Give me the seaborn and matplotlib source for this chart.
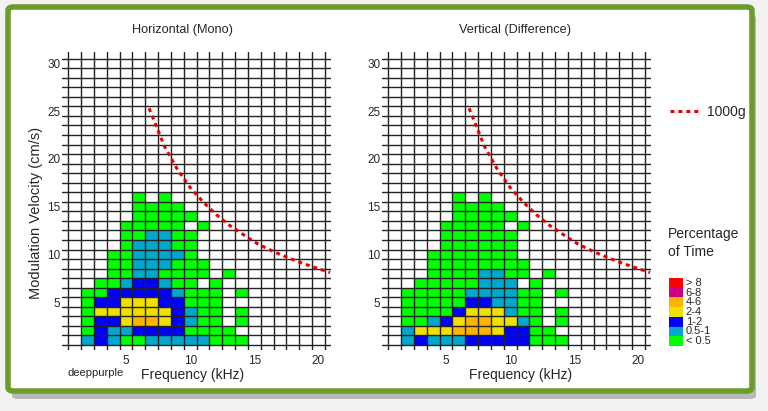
import numpy as np
import pandas as pd
import matplotlib
matplotlib.use('Agg')
import matplotlib.pyplot as plt
import seaborn as sns
from matplotlib.colors import ListedColormap, BoundaryNorm
from matplotlib.patches import FancyBboxPatch
from matplotlib.lines import Line2D

sns.set_style('white')
plt.rcParams['font.family'] = ['Liberation Sans', 'DejaVu Sans']

# Frequency bins (kHz) and modulation velocity bins (cm/s)
freq_khz = list(range(1, 21))
velocity = list(range(1, 32))

# class per cell: 0 none, 1 <0.5, 2 0.5-1, 3 1-2, 4 2-4, 5 4-6, 6 6-8, 7 >8
# one string per velocity row, starting at 1 cm/s, columns 1..20 kHz
mono_rows = [
    "02321122222111000000",
    "01322333311110000000",
    "01334554321101000000",
    "01444444321101000000",
    "01334443311100000000",
    "01133333211101000000",
    "00112332110100000000",
    "00011221111010000000",
    "00011222111000000000",
    "00011222210000000000",
    "00001222110000000000",
    "00001122110000000000",
    "00001111101000000000",
    "00000111110000000000",
    "00000111100000000000",
    "00000101000000000000",
]

diff_rows = [
    "02322233333111000000",
    "02444555433110000000",
    "01123455442101000000",
    "01111344421101000000",
    "01111133221100000000",
    "01111122221101000000",
    "00111112220100000000",
    "00011112211010000000",
    "00011111111000000000",
    "00011111110000000000",
    "00001111110000000000",
    "00001111110000000000",
    "00001111101000000000",
    "00000111110000000000",
    "00000111100000000000",
    "00000101000000000000",
]

# 1000g curve
curve_freq = [6.8, 8, 9, 10, 11, 12, 13, 14, 15, 16, 17, 18, 19, 20, 20.9]
curve_vel = [25.3, 21.3, 18.9, 17.0, 15.5, 14.2, 13.1, 12.2, 11.3, 10.6, 10.0, 9.45, 8.95, 8.5, 8.1]

class_labels = ['> 8', '6-8', '4-6', '2-4', '1-2', '0.5-1', '< 0.5']
class_colors = ['#ffffff', '#00ff00', '#00a8cc', '#0000ff', '#f0e000',
                '#ffb400', '#cc0080', '#ff0000']

titles = ['Horizontal (Mono)', 'Vertical (Difference)']


def to_frame(rows):
    grid = [[int(ch) for ch in r] for r in rows]
    grid += [[0] * len(freq_khz)] * (len(velocity) - len(grid))
    return pd.DataFrame(grid, index=velocity, columns=freq_khz)


cmap = ListedColormap(class_colors)
norm = BoundaryNorm(np.arange(-0.5, 8.5, 1), cmap.N)

fig = plt.figure(figsize=(7.68, 4.11), dpi=100)
fig.patch.set_facecolor('#f2f2f2')

# framed panel with a drop shadow
W, H = 768, 411
shadow = FancyBboxPatch((12 / W, 12 / H), 744 / W, 384 / H,
                        boxstyle='round,pad=0,rounding_size=0.008',
                        transform=fig.transFigure, facecolor='#b8b8b8',
                        edgecolor='none', zorder=-3)
frame = FancyBboxPatch((8 / W, 20 / H), 744 / W, 384 / H,
                       boxstyle='round,pad=0,rounding_size=0.008',
                       transform=fig.transFigure, facecolor='white',
                       edgecolor='#6e9b2e', linewidth=4, zorder=-2)
fig.add_artist(shadow)
fig.add_artist(frame)

panels = [to_frame(mono_rows), to_frame(diff_rows)]
lefts = [61.9, 381.9]
label_x = [0.485, 0.516]

for i, df in enumerate(panels):
    ax = fig.add_axes([lefts[i] / W, 61.2 / H, 269.4 / W, 297.8 / H])
    sns.heatmap(df, cmap=cmap, norm=norm, cbar=False, ax=ax,
                xticklabels=False, yticklabels=False)
    ax.set_xlim(-0.5, 20.5)
    ax.set_ylim(-0.5, 30.7)

    # cell boundaries as grid
    ax.set_xticks(np.arange(0, 21))
    ax.set_yticks(np.arange(0, 31))
    ax.set_xticks([f - 0.5 for f in [5, 10, 15, 20]], minor=True)
    ax.set_yticks([v - 0.5 for v in [5, 10, 15, 20, 25, 30]], minor=True)
    ax.set_xticklabels([])
    ax.set_yticklabels([])
    ax.set_xticklabels(['5', '10', '15', '20'], minor=True, fontsize=8.5)
    ax.set_yticklabels(['5', '10', '15', '20', '25', '30'], minor=True, fontsize=8.5)
    ax.tick_params(which='both', length=0)
    ax.tick_params(axis='x', which='minor', pad=4)
    ax.tick_params(axis='y', which='minor', pad=1)
    ax.grid(True, which='major', color='#222222', linewidth=1.0)
    ax.set_axisbelow(False)
    for s in ax.spines.values():
        s.set_visible(False)

    ax.plot([f - 0.5 for f in curve_freq], [v - 0.5 for v in curve_vel],
            color='#e80000', linestyle=(0, (1.3, 1.3)), linewidth=2.2,
            zorder=4, clip_on=False)

    ax.set_xlabel('Frequency (kHz)', fontsize=10)
    ax.xaxis.set_label_coords(label_x[i], -0.062)

    if i == 0:
        ax.set_ylabel('Modulation Velocity (cm/s)', fontsize=10.5)
        ax.yaxis.set_label_coords(-0.072, 0.46)
    else:
        ax.set_ylabel('')

fig.text(183 / W, 1 - 30 / H, titles[0], ha='center', va='center', fontsize=9.2)
fig.text(515 / W, 1 - 30 / H, titles[1], ha='center', va='center', fontsize=9.2)
fig.text(68 / W, 1 - 373 / H, 'deeppurple', ha='left', va='center', fontsize=8)

# 1000g legend
fig.legend(handles=[Line2D([], [], color='#e80000', linestyle=(0, (1.3, 1.3)), linewidth=2.2)],
           labels=['1000g'], loc='center left', bbox_to_anchor=(657 / W, 1 - 112 / H),
           frameon=False, fontsize=10, handlelength=2.2, handletextpad=0.5)

# percentage-of-time key
fig.text(668 / W, 1 - 243 / H, 'Percentage\nof Time', ha='left', va='center',
         fontsize=10, linespacing=1.35)
kax = fig.add_axes([669 / W, (H - 346) / H, 14 / W, 68 / H])
key = pd.DataFrame({'k': list(range(7, 0, -1))}, index=class_labels)
sns.heatmap(key, cmap=cmap, norm=norm, cbar=False, ax=kax,
            xticklabels=False, yticklabels=True)
kax.yaxis.tick_right()
kax.tick_params(axis='y', length=0, pad=2, labelsize=8, labelrotation=0)
for t in kax.get_yticklabels():
    t.set_verticalalignment('center')

fig.savefig('out.png', dpi=100, facecolor=fig.get_facecolor())
